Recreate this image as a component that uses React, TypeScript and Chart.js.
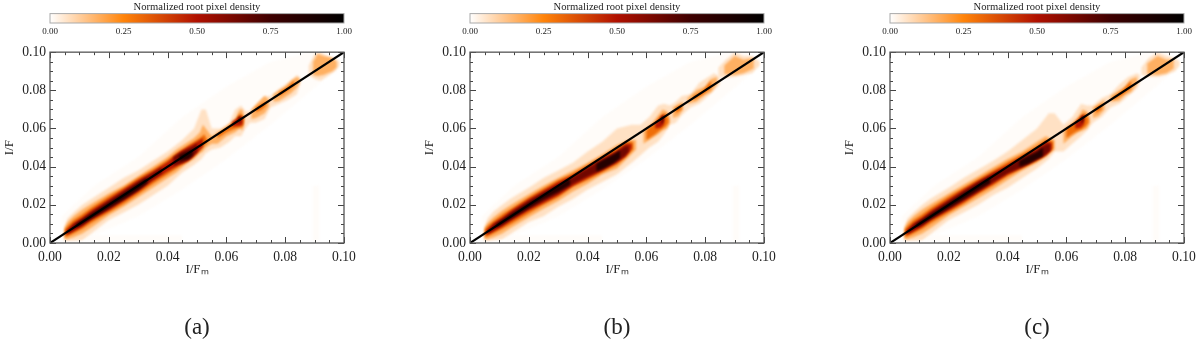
import React, { useEffect, useRef } from "react";
import { Chart, registerables } from "chart.js";
Chart.register(...registerables);

type T = [number, number, number];
// every triple: I/Fm, upper I/F, lower I/F of a density contour (in units of 0.001)
const HAZE: T[][] = [
  [[4,14,1],[15,30,4],[30,45,14],[45,66,28],[60,82,44],[75,95,62],[89,100,80],[95,100,88]],
  [[89.5,30,1],[91.5,30,1]],
  [[12,4,1],[45,4,1]],
];

const A_05: T[][] = [
  [[4.8,8,1.5],[6,13,1],[8,16,1.2],[11,20,1.5],[14,23,5],[20,29,12],[25,34,16],[30,38,20],[35,43,25],[40,48,30],[45,54,37],[49,60,41],[51.5,70,44],[53,70,47],[55,60,49],[58,60,50],[61,63,53],[63,70,56],[65,72,56],[66.5,69,60],[68,69,63],[70,72,63],[73,77,65],[75,77,71],[78,81,73],[81,84,75],[84,88,78],[85,87,83]],
  [[88,93,88],[90,99,86],[92,100,85],[94,98,87],[97,97,90],[98.5,95,93]],
];
const A_15: T[][] = [
  [[5,8,2],[6,11,2],[8,14,3],[11,17.5,5],[14,20.5,8],[20,26,14.5],[25,30,19],[30,35,24],[35,40,29],[40,45,34],[43,49,37],[46,52,41],[49,55,44],[51,58,47],[52,62,48],[53,60,50],[55,56,52],[57,58,52],[60,61,56],[63,65,58],[64.5,70,60],[65.5,70,59],[66,66,62]],
  [[68.5,70,65],[70,72.5,65.5],[73,77,68],[74.5,75,71.5]],
  [[76,78,74],[78,80,74.5],[80,82,76.5],[82,85,78.5],[84,87,81.5],[85,86,84]],
  [[89.5,95,88],[91,99,87.5],[93,98,88],[96,97,90],[97.5,95,92]],
];
const A_28: T[][] = [
  [[5,7,3],[6,9,3.5],[8,12,5],[11,15,7.5],[14,18.5,10.5],[20,24.5,16],[25,29,20.5],[30,34,25.5],[35,38.5,31],[40,43.5,36],[43,47,39],[46,50,42],[49,53,45.5],[51,55,48.5],[52.5,57,51],[53.5,54,52.5]],
  [[57,57,55],[60,60,58],[63,64,60],[64.5,68,60.5],[65.5,67,61],[66,66,63.5]],
  [[70,71,68.5],[72,73,70],[73.5,74,72]],
  [[78,79,77],[81,82,80],[83,85,82.5]],
];
const A_42: T[][] = [
  [[5.5,6.5,4],[8,10.5,6],[11,13.5,8.5],[14,17,12],[20,23,17],[25,28,22],[30,33,27],[35,37.5,32.5],[40,42.5,37.5],[44,47.5,41],[47,50.5,43],[50,53,47],[52,55,50.5]],
  [[62,63.5,61],[64.5,66,61.5],[65.5,66,62]],
];
const A_58: T[][] = [
  [[6,6.5,5],[8,9.5,6.8],[11,12.5,9.5],[14,16,12.5],[20,22,18],[25,27,22.5],[30,32,27.5],[35,36.5,33.5],[38,39.5,36.5]],
  [[42,45,40.5],[45,48,42],[48,50,44.5],[50,52,48]],
  [[64,66,63],[65,66.5,63.5]],
];
const A_78: T[][] = [
  [[9,10,8.2],[14,15,13],[20,21,18.5],[25,26,23],[30,31,28],[33,34,31.5]],
  [[44,46,43],[47,48,44],[48.5,49,46]],
];

const B_05: T[][] = [
  [[4.8,8,1.5],[6,13,1],[8,16.5,1.5],[11,20,2],[14,23.5,5],[20,29,11],[25,34,14],[30,38,19],[35,42,23],[40,48,28],[45,53,32],[50,60,36],[55,62,42],[58,62,46],[61,66,50],[64,72,53],[66,73,57],[68,72,62],[70,74,63],[72,77,67],[75,78,71],[78,84,73],[81,87,77],[83,89,80],[85,87,83]],
  [[84.5,92,87],[87,96,86.5],[90,100,87],[93,98,88],[96,98,89],[98.5,95,93]],
];
const B_15: T[][] = [
  [[5,8,2],[6,10.5,2],[8,13.5,3],[11,17,5],[14,20,8],[20,25.5,13.5],[25,30,18],[30,34,22],[35,38,27],[40,42,31],[45,46.5,36],[50,51.5,39],[54,54,45],[56.5,54,49]],
  [[59,59,52],[62,63,55],[64,67,57],[65.5,70,59],[67,69,60],[68,66,63]],
  [[69,71,65.5],[71,73,66.5],[72.5,74,70]],
  [[74,76,73],[77,80,74],[80,82,77.5],[82,86,79],[84,87,83]],
  [[86.5,93,88.5],[90,98,88],[93,96,89],[96.5,97,91.5]],
];
const B_28: T[][] = [
  [[5,7,3],[6,9,3.5],[8,11.5,5],[11,15,7.5],[14,18,10],[20,24,15.5],[25,28.5,20],[30,33,24],[35,36.5,29.5],[40,41,33],[45,45.5,37],[50,50,41],[53,53,45],[55.5,53,49]],
  [[60,59,54],[63,63,57],[65,67,59.5],[66.5,68,61],[67.5,65,63]],
  [[70,71,68],[72,72.5,70]],
  [[76,77,75],[79,79.5,77.5],[82,85,81]],
];
const B_42: T[][] = [
  [[5.5,6.5,4],[8,10.5,6],[11,13.5,8.5],[14,17,11.5],[20,23,17],[25,27.5,21],[30,32,25],[35,35.5,30],[40,40,34],[45,44.5,38],[50,48.5,42],[53,52,45.5],[55,52,49.5]],
  [[63,62.5,60],[65,66,60.5],[66,67.5,62.5]],
];
const B_58: T[][] = [
  [[6,6.5,5],[8,9.5,6.8],[11,12.5,9.5],[14,16,12.5],[20,22,18],[25,26.5,22],[30,30.5,26],[35,34.5,31],[40,39,35],[45,43.5,38.5],[50,47.5,43],[52.5,50.5,45.5],[54,51,48]],
  [[65,66,62],[66,67,64]],
];
const B_78: T[][] = [
  [[9,10,8.2],[14,15,13],[20,21,18.5],[25,25.5,23],[30,30,27],[34,33.5,30.5]],
  [[43,41.5,37.5],[46,44,39.5],[49,46.5,42],[51,48.5,44.5]],
];

const C_05: T[][] = [
  [[4.8,8,1.5],[6,13,1],[8,16,1.2],[11,20,1.5],[14,23.5,5],[20,29,12],[25,34,16],[30,38.5,20],[35,43,25],[40,48,29],[45,54,34],[50,60,39],[54,68,44],[56,68,48],[59,62,48],[62,66,52],[65,73,56],[67,72,59],[69,72,63],[72,76,66],[75,78,71],[78,83,73],[81,87,77],[84,89,81],[85,88,84]],
  [[85.5,92,88],[88,97,87],[91,100,87],[94,98,88],[97,97,90],[98.5,95,93]],
];
const C_15: T[][] = [
  [[5,8,2],[6,11,2],[8,14,3],[11,17.5,5],[14,20.5,8],[20,26,14.5],[25,30.5,19],[30,35,23.5],[35,39.5,28],[40,44,33],[45,48,38],[50,53,42],[53,56,45],[56,54,49]],
  [[59,59,52],[62,63,56],[64,66,58],[65.5,70,59],[67,69,60],[68,66,63]],
  [[69,71,65.5],[71,73,66.5],[73,75,70]],
  [[75,77,74],[78,80,74.5],[80,82,77.5],[82,86,79],[84,87,83]],
  [[87.5,94,88.5],[91,98,88],[94,96,89],[96.5,96,91.5]],
];
const C_28: T[][] = [
  [[5,7,3],[6,9,3.5],[8,12,5],[11,15,7.5],[14,18.5,10.5],[20,24.5,16],[25,29,20.5],[30,33.5,25.5],[35,38,30],[40,42.5,35],[45,46.5,39],[50,51,43],[53,54,46],[55.5,53.5,49.5]],
  [[60,60,55],[63,63,58],[65,67,59.5],[66.5,68,61],[67.5,65,63]],
  [[70,71,68],[72,73,70]],
  [[76,76.5,75],[79,80,77.5],[82,85,81]],
];
const C_42: T[][] = [
  [[5.5,6.5,4],[8,10.5,6],[11,13.5,8.5],[14,17,12],[20,23,17],[25,28,21.5],[30,32.5,26.5],[35,37,31],[40,41,36],[45,45.5,39.5],[50,49.5,43.5],[53,53,46],[55,52.5,49]],
  [[63,63,60],[65,66,60.5],[66,67.5,62.5]],
];
const C_58: T[][] = [
  [[6,6.5,5],[8,9.5,6.8],[11,12.5,9.5],[14,16,12.5],[20,22,18],[25,27,22.5],[30,32,27],[35,36,32],[40,40,36.5],[45,44.5,40],[50,48.5,44],[53,51.5,46.5],[54.5,52,48.5]],
  [[65,66,62.5],[66,67,64]],
];
const C_78: T[][] = [
  [[9,10,8.2],[14,15,13],[20,21,18.5],[25,26,23],[30,30.5,28],[34,34.5,31.5]],
  [[44,43,40],[47,45.5,41.5],[50,47.5,44],[52,50,45.5]],
];

const LEVELS = [0.006, 0.06, 0.16, 0.3, 0.48, 0.64, 0.85];
const PANEL_A = [HAZE, A_05, A_15, A_28, A_42, A_58, A_78];
const PANEL_B = [HAZE, B_05, B_15, B_28, B_42, B_58, B_78];
const PANEL_C = [HAZE, C_05, C_15, C_28, C_42, C_58, C_78];
const CAPTIONS = ["(a)", "(b)", "(c)"];
const DIAGONAL = [{ x: 0, y: 0 }, { x: 0.1, y: 0.1 }];
const COLOR_TICKS = [0, 0.25, 0.5, 0.75, 1];

const STOPS: [number, number[]][] = [
  [0, [255, 255, 255]],
  [0.25, [255, 132, 10]],
  [0.5, [176, 16, 0]],
  [0.75, [62, 0, 0]],
  [1, [0, 0, 0]],
];
function colorAt(v: number) {
  for (let i = 1; i < STOPS.length; i++) {
    if (v <= STOPS[i][0]) {
      const [a, ca] = STOPS[i - 1];
      const [b, cb] = STOPS[i];
      const t = (v - a) / (b - a);
      const c = ca.map((u, k) => Math.round(u + (cb[k] - u) * t));
      return `rgb(${c[0]},${c[1]},${c[2]})`;
    }
  }
  return "#000";
}
const polygon = (part: T[]) => {
  const up = part.map(([x, u]) => ({ x: x / 1000, y: u / 1000 }));
  const low = part.map(([x, , l]) => ({ x: x / 1000, y: l / 1000 })).reverse();
  return [...up, ...low, up[0]];
};

const FONT = "'Liberation Serif', serif";
const INK = "#222";

const frameTicks = (major: number, minor: number, withTicks: boolean) => ({
  id: "frameTicks",
  afterDatasetsDraw(chart: any) {
    const { ctx, chartArea: a, scales } = chart;
    ctx.save();
    ctx.filter = "none";
    if (withTicks) {
      ctx.strokeStyle = "#444";
      ctx.lineWidth = 1;
      const n = 20;
      for (let i = 0; i <= n; i++) {
        const len = i % 4 === 0 ? major : minor;
        const v = (i * 0.1) / n;
        const px = Math.round(scales.x.getPixelForValue(v)) + 0.5;
        const py = Math.round(scales.y.getPixelForValue(v)) + 0.5;
        ctx.beginPath();
        ctx.moveTo(px, a.bottom); ctx.lineTo(px, a.bottom - len);
        ctx.moveTo(px, a.top); ctx.lineTo(px, a.top + len);
        ctx.moveTo(a.left, py); ctx.lineTo(a.left + len, py);
        ctx.moveTo(a.right, py); ctx.lineTo(a.right - len, py);
        ctx.stroke();
      }
    }
    ctx.strokeStyle = withTicks ? "#555" : "#aaa";
    ctx.lineWidth = withTicks ? 1.3 : 1;
    ctx.strokeRect(a.left, a.top, a.right - a.left, a.bottom - a.top);
    ctx.restore();
  },
});

const softContours = {
  id: "softContours",
  beforeDatasetsDraw(chart: any) {
    chart.ctx.filter = "blur(1.3px)";
  },
  beforeDatasetDraw(chart: any, args: any) {
    if (args.index === 0) chart.ctx.filter = "none";
  },
  afterDatasetsDraw(chart: any) {
    chart.ctx.filter = "none";
  },
};

function Density({ panel, left }: { panel: T[][][]; left: number }) {
  const ref = useRef<HTMLCanvasElement>(null);
  useEffect(() => {
    const datasets: any[] = [
      { data: DIAGONAL, showLine: true, borderColor: "#000", borderWidth: 2.2, pointRadius: 0, fill: false },
    ];
    const layers: any[] = [];
    panel.forEach((parts, i) =>
      parts.forEach((part) =>
        layers.push({
          data: polygon(part),
          showLine: true,
          borderWidth: 0,
          pointRadius: 0,
          fill: "shape",
          backgroundColor: colorAt(LEVELS[i]),
        })
      )
    );
    // datasets are painted last-to-first, so the densest layers go first
    datasets.push(...layers.reverse());
    const axis = (text: string, pad: number) => ({
      type: "linear" as const,
      min: 0,
      max: 0.1,
      grid: { display: false, drawTicks: false },
      border: { display: false },
      ticks: {
        stepSize: 0.02,
        maxRotation: 0,
        padding: pad,
        color: INK,
        font: { family: FONT, size: 13.6 },
        callback: (v: any) => Number(v).toFixed(2),
      },
      title: { display: true, text, color: INK, font: { family: FONT, size: 13 }, padding: 2 },
    });
    const chart = new Chart(ref.current!, {
      type: "scatter",
      data: { datasets },
      options: {
        responsive: false,
        animation: false,
        events: [],
        layout: { padding: { top: 6, right: 56, left: 0, bottom: 64 } },
        scales: {
          x: { ...axis("I/Fₘ", 6), afterFit(s: any) { s.height = 36; } },
          y: { ...axis("I/F", 4), afterFit(s: any) { s.width = 50; } },
        },
        plugins: { legend: { display: false }, tooltip: { enabled: false } },
      } as any,
      plugins: [softContours, frameTicks(6, 3, true)],
    });
    return () => chart.destroy();
  }, [panel]);
  return <canvas ref={ref} width={400} height={303} style={{ position: "absolute", left, top: 40 }} />;
}

function ColorBar({ left }: { left: number }) {
  const ref = useRef<HTMLCanvasElement>(null);
  useEffect(() => {
    const chart = new Chart(ref.current!, {
      type: "bar",
      data: {
        labels: ["density"],
        datasets: [
          {
            data: [[0, 1]],
            barPercentage: 1,
            categoryPercentage: 1,
            backgroundColor: (c: any) => {
              const area = c.chart.chartArea;
              if (!area || !Number.isFinite(area.left) || !Number.isFinite(area.right) || area.right <= area.left) return "#888";
              const g = c.chart.ctx.createLinearGradient(area.left, 0, area.right, 0);
              STOPS.forEach(([p]) => g.addColorStop(p, colorAt(p)));
              return g;
            },
          },
        ],
      } as any,
      options: {
        indexAxis: "y",
        responsive: false,
        animation: false,
        events: [],
        layout: { padding: { left: 50, right: 56, top: 0, bottom: 0 } },
        scales: {
          x: {
            type: "linear",
            min: 0,
            max: 1,
            grid: { display: false, drawTicks: false },
            border: { display: false },
            afterBuildTicks(s: any) { s.ticks = COLOR_TICKS.map((value) => ({ value })); },
            afterFit(s: any) { s.height = 17; },
            ticks: {
              maxRotation: 0,
              padding: 3,
              color: INK,
              font: { family: FONT, size: 9 },
              callback: (v: any) => Number(v).toFixed(2),
            },
          },
          y: { display: false },
        },
        plugins: {
          legend: { display: false },
          tooltip: { enabled: false },
          title: {
            display: true,
            text: "Normalized root pixel density",
            color: INK,
            font: { family: FONT, size: 10.6, weight: "normal", lineHeight: 1 },
            padding: { top: 2, bottom: 1 },
          },
        },
      } as any,
      plugins: [frameTicks(0, 0, false)],
    });
    return () => chart.destroy();
  }, []);
  return <canvas ref={ref} width={400} height={40} style={{ position: "absolute", left, top: 0 }} />;
}

export default function App() {
  const panels = [PANEL_A, PANEL_B, PANEL_C];
  return (
    <div style={{ position: "fixed", left: 0, top: 0, width: 1200, height: 343, background: "#fff", overflow: "hidden" }}>
      {panels.map((p, i) => (
        <React.Fragment key={i}>
          <ColorBar left={i * 420} />
          <Density panel={p} left={i * 420} />
          <div
            style={{
              position: "absolute",
              left: i * 420 + 147,
              width: 100,
              top: 314,
              textAlign: "center",
              fontFamily: FONT,
              fontSize: 23,
              lineHeight: "26px",
              color: INK,
            }}
          >
            {CAPTIONS[i]}
          </div>
        </React.Fragment>
      ))}
    </div>
  );
}
